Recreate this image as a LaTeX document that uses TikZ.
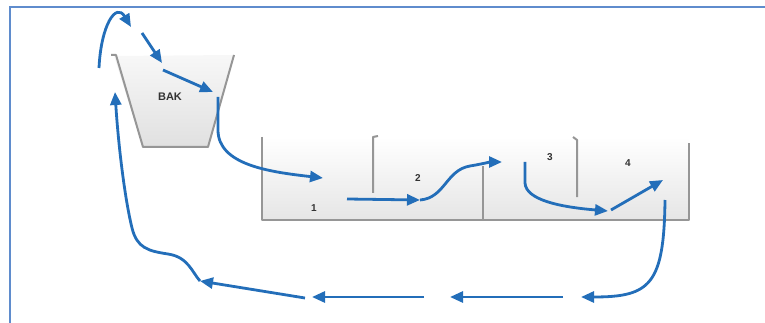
\documentclass[tikz,border=0pt]{standalone}
\usepackage{fontspec}
\setmainfont{Liberation Sans}
\usetikzlibrary{arrows.meta}
\definecolor{flowblue}{RGB}{35,110,185}
\definecolor{wallgray}{RGB}{150,150,150}
\definecolor{frameblue}{RGB}{95,140,205}

\begin{document}
\begin{tikzpicture}[x=1pt, y=-1pt, wall/.style={draw=wallgray, line width=2pt, line join=round}, flow/.style={draw=flowblue, line width=2.8pt, -{Triangle[length=13pt, width=11pt]}}, tag/.style={font=\bfseries\fontsize{10}{10}\selectfont, text=black!80}]
\useasboundingbox (0,0) rectangle (765,323);
\draw[frameblue, line width=2pt] (10,323) -- (10,7) -- (765,7);
% tanks
\shade[top color=black!3, bottom color=black!12] (114,56) -- (143,147) -- (208,147) -- (234,55) -- cycle;
\draw[wall] (111,55) -- (116,55) -- (143,147) -- (208,147) -- (234,55);
\shade[top color=white, bottom color=black!10] (262,137) rectangle (689,220);
\draw[wall] (262,137) -- (262,220) -- (689,220) -- (689,143);
\draw[wall] (373,193) -- (373,137) -- (378,136);
\draw[wall] (483,220) -- (483,166);
\draw[wall] (577,197) -- (577,140) -- (573,137);
\node[tag, font=\bfseries\fontsize{11}{11}\selectfont] (bak) at (170,97) {BAK};
\foreach \n/\x/\y in {1/314/208, 2/418/178, 3/550/157, 4/628/163}
    \node[tag] (c\n) at (\x,\y) {\n};
% flow points
\coordinate (a) at (99,68); \coordinate (b) at (131,27);
\coordinate (c) at (142,33); \coordinate (d) at (162,63);
\coordinate (e) at (163,70); \coordinate (f) at (213,92);
\coordinate (g) at (218,97); \coordinate (h) at (323,178);
\coordinate (i) at (347,199); \coordinate (j) at (420,200);
\coordinate (k) at (502,162); \coordinate (l) at (525,162);
\coordinate (m) at (608,211); \coordinate (n) at (611,210);
\coordinate (o) at (663,180); \coordinate (p) at (665,200);
\coordinate (q) at (581,297); \coordinate (r) at (563,297);
\coordinate (s) at (450,297); \coordinate (t) at (424,297);
\coordinate (u) at (312,297); \coordinate (v) at (305,298);
\coordinate (w) at (200,281); \coordinate (z) at (115,92);
\draw[flow] (a) .. controls (101,25) and (116,2) .. (b);
\draw[flow] (c) -- (d);
\draw[flow] (e) -- (f);
\draw[flow] (g) -- (218,130) .. controls (218,165) and (270,172) .. (h);
\draw[flow] (i) -- (j);
\draw[flow] (j) .. controls (445,198) and (446,170) .. (470,166) .. controls (482,164) and (490,162) .. (k);
\draw[flow] (l) -- (525,183) .. controls (526,200) and (560,207) .. (m);
\draw[flow] (n) -- (o);
\draw[flow] (p) .. controls (664,285) and (650,297) .. (q);
\draw[flow] (r) -- (s);
\draw[flow] (t) -- (u);
\draw[flow] (v) -- (w);
\draw[flow] (w) .. controls (192,272) and (188,257) .. (168,254) .. controls (148,251) and (137,248) .. (132,228) .. controls (124,195) and (118,140) .. (z);
\end{tikzpicture}
\end{document}
